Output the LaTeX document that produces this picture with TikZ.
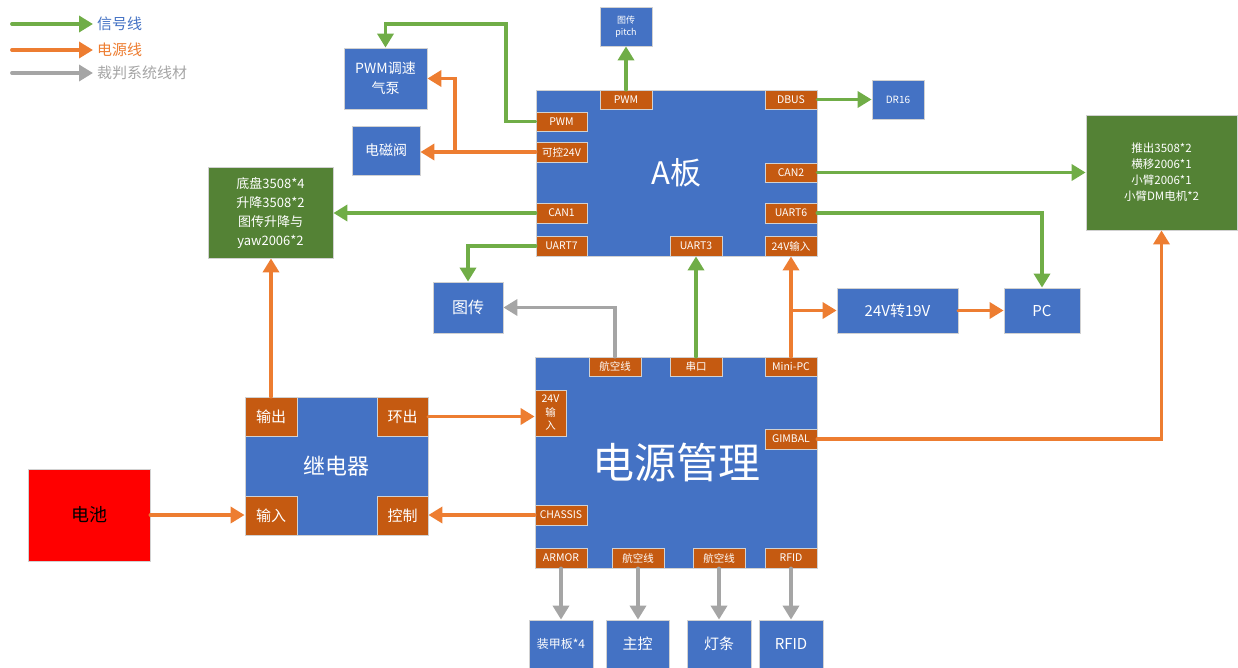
\documentclass[tikz,border=0pt]{standalone}
\usepackage{fontspec}
\setmainfont{Noto Sans CJK SC}
\usetikzlibrary{arrows.meta}
\definecolor{cblue}{HTML}{4472C4}
\definecolor{cport}{HTML}{C55A11}
\definecolor{cgbox}{HTML}{548235}
\definecolor{cgreen}{HTML}{70AD47}
\definecolor{corange}{HTML}{ED7D31}
\definecolor{cgray}{HTML}{A5A5A5}
\newcommand\fs[2]{\fontsize{#1}{#2}\selectfont}
\newcommand\R[7]{\node[#1,minimum width={(#5-#3)*1pt},minimum height={(#6-#4)*1pt}] (#2) at ({(#3+#5)/2},{(#4+#6)/2}) {#7};}
\tikzset{
  blk/.style={draw=black!18, line width=0.8pt, fill=cblue, text=white, inner sep=0pt, align=center},
  gbx/.style={draw=black!18, line width=0.8pt, fill=cgbox, text=white, inner sep=0pt, align=center},
  prt/.style={draw=black!18, line width=0.8pt, fill=cport, text=white, inner sep=0pt, align=center, font={\fs{10.5}{13}}},
  tip/.style={-{Triangle[length=14pt,width=16pt]}},
  sig/.style={draw=cgreen, line width=3.8pt, line cap=round, tip},
  pwr/.style={draw=corange, line width=3.8pt, line cap=round, tip},
  gry/.style={draw=cgray, line width=3.8pt, line cap=round, tip},
}
\begin{document}
\begin{tikzpicture}[x=1pt,y=-1pt]
\useasboundingbox (0,0) rectangle (1238,667);
% legend
\coordinate (l1) at (12,24);
\coordinate (l2) at (12,50);
\coordinate (l3) at (12,73);
\node[anchor=west, text=cblue, font={\fs{15}{18}}, inner sep=4pt] (t1) at (93,24) {信号线};
\node[anchor=west, text=corange, font={\fs{15}{18}}, inner sep=4pt] (t2) at (93,50) {电源线};
\node[anchor=west, text=cgray, font={\fs{15}{18}}, inner sep=4pt] (t3) at (93,73) {裁判系统线材};
\draw[sig] (l1) -- (t1.west);
\draw[pwr] (l2) -- (t2.west);
\draw[gry] (l3) -- (t3.west);

% A board
\R{blk,font={\fs{31}{36}}}{A}{536}{90}{817}{256}{A板}
\R{prt}{apwmT}{600}{90}{652}{109}{PWM}
\R{prt}{dbus}{765}{90}{817}{109}{DBUS}
\R{prt}{apwmL}{536}{112}{587}{131}{PWM}
\R{prt}{a24}{536}{142}{587}{162}{可控24V}
\R{prt}{can2}{765}{163}{817}{182}{CAN2}
\R{prt}{can1}{536}{203}{587}{223}{CAN1}
\R{prt}{uart6}{765}{203}{817}{223}{UART6}
\R{prt}{uart7}{536}{236}{587}{256}{UART7}
\R{prt}{uart3}{670}{236}{722}{256}{UART3}
\R{prt}{a24in}{765}{236}{817}{256}{24V输入}

% power management
\R{blk,font={\fs{42}{50}}}{P}{535}{357}{817}{568}{电源管理}
\R{prt}{hk1}{589}{357}{641}{376}{航空线}
\R{prt}{serial}{670}{357}{722}{376}{串口}
\R{prt}{minipc}{765}{357}{817}{376}{Mini-PC}
\R{prt,font={\fs{10.5}{13.5}}}{pin}{535}{390}{566}{436}{24V\\输\\入}
\R{prt}{gimbal}{765}{429}{817}{449}{GIMBAL}
\R{prt}{chassis}{535}{505}{587}{525}{CHASSIS}
\R{prt}{armor}{535}{548}{587}{568}{ARMOR}
\R{prt}{hk2}{612}{548}{664}{568}{航空线}
\R{prt}{hk3}{693}{548}{745}{568}{航空线}
\R{prt}{rfidp}{765}{548}{817}{568}{RFID}

% bottom boxes
\R{blk,font={\fs{12}{14}}}{armorb}{529}{620}{593}{668}{装甲板*4}
\R{blk,font={\fs{15}{18}}}{mainc}{606}{620}{669}{668}{主控}
\R{blk,font={\fs{15}{18}}}{light}{687}{620}{751}{668}{灯条}
\R{blk,font={\fs{15}{18}}}{rfidb}{759}{620}{823}{668}{RFID}

% relay
\R{blk,font={\fs{22}{26}}}{relay}{245}{397}{428}{535}{继电器}
\R{prt,font={\fs{15}{18}}}{rout}{245}{397}{297}{436}{输出}
\R{prt,font={\fs{15}{18}}}{rloop}{377}{397}{428}{436}{环出}
\R{prt,font={\fs{15}{18}}}{rin}{245}{496}{297}{535}{输入}
\R{prt,font={\fs{15}{18}}}{rctl}{377}{496}{428}{535}{控制}

% battery
\node[draw=black!18, line width=0.8pt, fill=red, text=black, inner sep=0pt,
  minimum width=122pt, minimum height=92pt, font={\fs{18}{22}}] (bat) at (89,515) {电池};

% other boxes
\R{blk,font={\fs{16}{19}}}{tc}{433}{282}{503}{333}{图传}
\R{blk,font={\fs{15}{18}}}{conv}{837}{288}{958}{333}{24V转19V}
\R{blk,font={\fs{15}{18}}}{pc}{1004}{288}{1080}{333}{PC}
\R{blk,font={\fs{10}{12}}}{dr16}{872}{80}{924}{119}{DR16}
\R{blk,font={\fs{9}{12}}}{pitch}{600}{7}{652}{46}{图传\\pitch}
\R{blk,font={\fs{14}{20}}}{pump}{344}{48}{427}{109}{PWM调速\\气泵}
\R{blk,font={\fs{14}{17}}}{valve}{352}{126}{420}{175}{电磁阀}
\R{gbx,font={\fs{13}{19}}}{cbox}{208}{167}{333}{258}{底盘3508*4\\升降3508*2\\图传升降与\\yaw2006*2}
\R{gbx,font={\fs{11.5}{16}}}{gbox}{1086}{115}{1237}{230}{推出3508*2\\横移2006*1\\小臂2006*1\\小臂DM电机*2}

% signal lines
\draw[sig] (apwmL.west) -| (506,24) -| (pump.north);
\draw[sig] (apwmT.north) -- (pitch.south);
\draw[sig] (dbus.east) -- (dr16.west);
\draw[sig] (can2.east) -- (can2.east -| gbox.west);
\draw[sig] (can1.west) -- (can1.west -| cbox.east);
\draw[sig] (uart6.east) -| (pc.north);
\draw[sig] (uart7.west) -| (tc.north);
\draw[sig] (serial.north) -- (serial.north |- uart3.south);

% power lines
\coordinate (j1) at (455,152);
\draw[pwr] (a24.west) -- (a24.west -| valve.east);
\draw[pwr] (j1) |- (pump.east);
\draw[pwr] (minipc.north) -- (a24in.south);
\draw[pwr] (minipc.north |- conv.west) -- (conv.west);
\draw[pwr] (conv.east) -- (pc.west);
\draw[pwr] (gimbal.east) -| (gbox.south);
\draw[pwr] (rout.north) -- (rout.north |- cbox.south);
\draw[pwr] (rloop.east) -- (rloop.east -| pin.west);
\draw[pwr] (bat.east) -- (bat.east -| rin.west);
\draw[pwr] (chassis.west) -- (chassis.west -| rctl.east);

% referee lines
\draw[gry] (hk1.north) |- (tc.east);
\draw[gry] (armor.south) -- (armor.south |- armorb.north);
\draw[gry] (hk2.south) -- (hk2.south |- mainc.north);
\draw[gry] (hk3.south) -- (hk3.south |- light.north);
\draw[gry] (rfidp.south) -- (rfidp.south |- rfidb.north);
\end{tikzpicture}
\end{document}
